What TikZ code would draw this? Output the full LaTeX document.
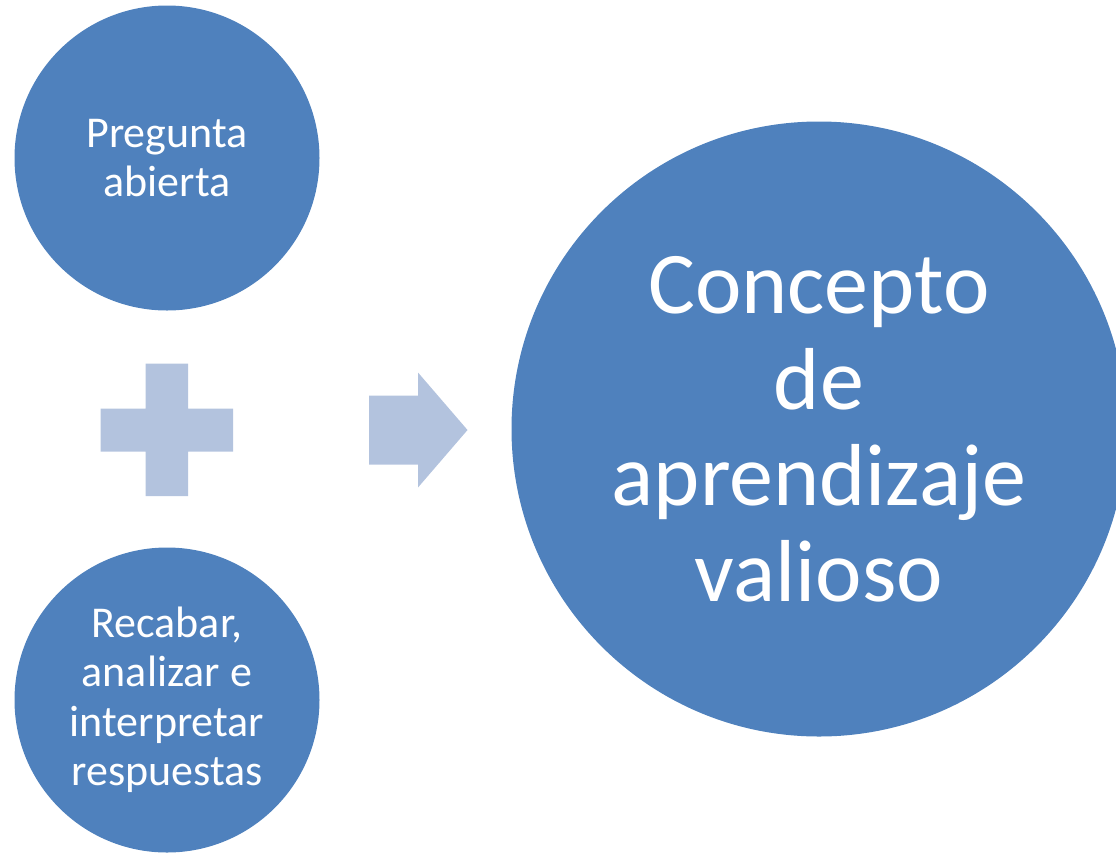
\documentclass[tikz,border=0pt]{standalone}
\usepackage{fontspec}
\setmainfont{Carlito}
\usetikzlibrary{positioning}

\definecolor{bubbleblue}{HTML}{4F81BD}
\definecolor{signblue}{HTML}{B3C3DE}

\begin{document}
\begin{tikzpicture}[x=1pt, y=-1pt]
		\tikzset{bubble/.style = {shape=circle, fill=bubbleblue, text=white, align=center, inner sep=0pt}}
		\tikzset{small/.style = {bubble, minimum size=305pt, font=\fontsize{44}{49.5}\selectfont}}
		\tikzset{big/.style = {bubble, minimum size=615pt, font=\fontsize{88}{96}\selectfont}}
		\tikzset{sign/.style = {fill=signblue}}

		\useasboundingbox (0,0) rectangle (1116,852);

		\node[small] (pregunta) at (167,158) {Pregunta\\abierta};
		\node[small] (recabar) at (167,700) {Recabar,\\analizar e\\interpretar\\respuestas};
		\node[big] (concepto) at (819,429) {Concepto\\de\\aprendizaje\\valioso};

		% plus
		\fill[sign] (145.5,363.5) -- (188,363.5) -- (188,408.5) -- (233,408.5) -- (233,451.5)
			-- (188,451.5) -- (188,496) -- (145.5,496) -- (145.5,451.5) -- (100.5,451.5)
			-- (100.5,408.5) -- (145.5,408.5) -- cycle;

		% arrow
		\fill[sign] (369,395.5) -- (418,395.5) -- (418,372.5) -- (467.5,430) -- (418,487.5)
			-- (418,464.5) -- (369,464.5) -- cycle;

	\end{tikzpicture}
\end{document}
